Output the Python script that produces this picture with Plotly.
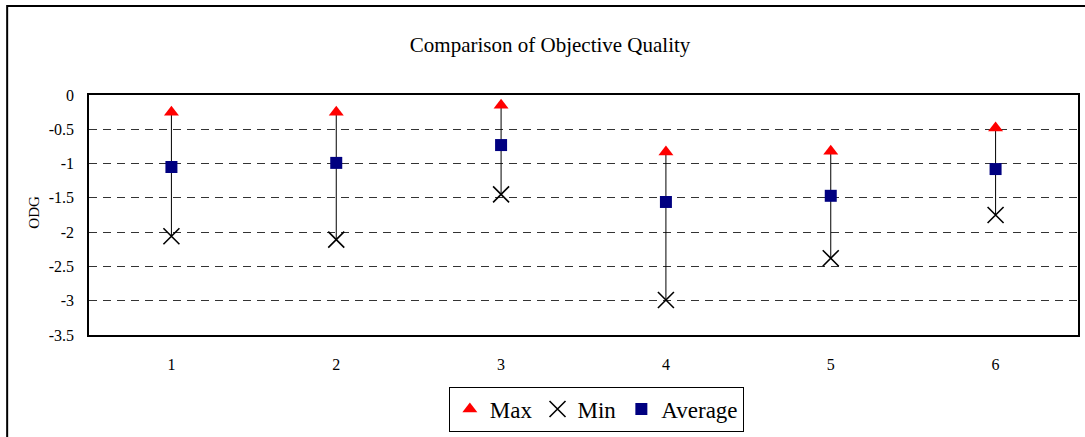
import plotly.graph_objects as go

# ODG scores per test item
categories = ["1", "2", "3", "4", "5", "6"]
max_odg = [-0.25, -0.25, -0.15, -0.83, -0.82, -0.48]
min_odg = [-2.06, -2.11, -1.45, -2.99, -2.38, -1.75]
avg_odg = [-1.05, -0.99, -0.73, -1.56, -1.47, -1.08]
y_ticks = [0, -0.5, -1, -1.5, -2, -2.5, -3, -3.5]

FONT = "Liberation Serif"

fig = go.Figure()

# high-low lines joining max and min of each item
hl_x, hl_y = [], []
for c, hi, lo in zip(categories, max_odg, min_odg):
    hl_x += [c, c, None]
    hl_y += [hi, lo, None]
fig.add_trace(go.Scatter(
    x=hl_x, y=hl_y, mode="lines",
    line=dict(color="black", width=1),
    showlegend=False, hoverinfo="skip",
))

fig.add_trace(go.Scatter(
    x=categories, y=max_odg, mode="markers", name="Max",
    marker=dict(symbol="triangle-up", size=13, color="#ff0000"),
))
fig.add_trace(go.Scatter(
    x=categories, y=min_odg, mode="markers", name="Min",
    marker=dict(symbol="x-thin", size=16, color="black",
                line=dict(color="black", width=1.6)),
))
fig.add_trace(go.Scatter(
    x=categories, y=avg_odg, mode="markers", name="Average",
    marker=dict(symbol="square", size=12, color="#000080"),
))

fig.update_layout(
    width=1085, height=437,
    margin=dict(l=89, r=5, t=95, b=99),
    paper_bgcolor="white", plot_bgcolor="white",
    font=dict(family=FONT, color="black"),
    title=dict(text="Comparison of Objective Quality", x=0.507, xanchor="center",
               y=1 - 45 / 437, yanchor="middle",
               font=dict(family=FONT, size=21, color="black")),
    showlegend=True,
    legend=dict(orientation="h", x=0.513, xanchor="center", y=-0.215, yanchor="top",
                bordercolor="black", borderwidth=1, itemwidth=30,
                font=dict(family=FONT, size=23, color="black"),
                tracegroupgap=0, bgcolor="white"),
    xaxis=dict(type="category", range=[-0.5, 5.5], showgrid=False, zeroline=False,
               showline=True, linecolor="black", linewidth=1.5, mirror=True,
               ticks="", ticklabelstandoff=14,
               tickfont=dict(family=FONT, size=16, color="black")),
    yaxis=dict(range=[-3.5, 0], tickvals=y_ticks, ticktext=[f"{v:g}" for v in y_ticks],
               showgrid=True, gridcolor="#333333", gridwidth=1, griddash="8px,6px",
               zeroline=False, showline=True, linecolor="black", linewidth=1.5,
               mirror=True, ticks="", ticklabelstandoff=10,
               tickfont=dict(family=FONT, size=16, color="black")),
)

# ODG axis title
fig.add_annotation(text="ODG", xref="paper", yref="paper",
                   x=(33 - 89) / 991, y=(338 - 214) / 243,
                   xanchor="center", yanchor="middle",
                   textangle=-90, showarrow=False,
                   font=dict(family=FONT, size=15, color="black"))

# chart-area frame
fig.add_shape(type="rect", xref="paper", yref="paper",
              x0=(7 - 89) / 991, x1=1.02, y0=-0.5, y1=(338 - 5) / 243,
              line=dict(color="black", width=2), layer="below")

fig.write_html("out.html")
